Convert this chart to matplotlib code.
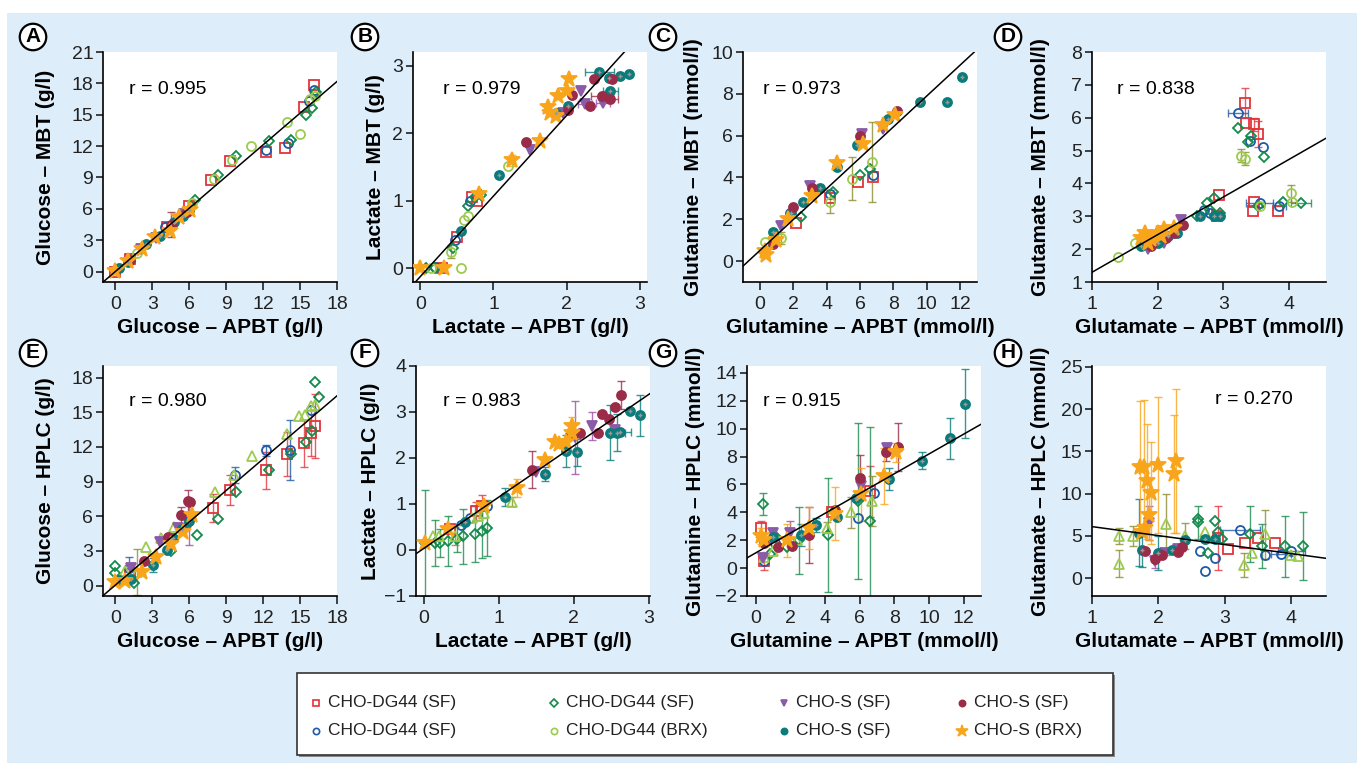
import matplotlib.pyplot as plt
import matplotlib.patches as mpatches
from matplotlib.lines import Line2D
import numpy as np

plt.rcParams['font.family'] = ['Liberation Sans', 'DejaVu Sans']

# series: red sq, blue circ, green diamond, light green (BRX), purple tri, teal, maroon, star
labels = ['CHO-DG44 (SF)', 'CHO-DG44 (SF)', 'CHO-DG44 (SF)', 'CHO-DG44 (BRX)',
          'CHO-S (SF)', 'CHO-S (SF)', 'CHO-S (SF)', 'CHO-S (BRX)']
colors = ['#e2343a', '#1f5aa6', '#138b4b', '#9ccb4f', '#8b5aa8', '#0b7b7b', '#9a2c4a', '#f9a51b']
err_colors = ['#e2343a', '#1f5aa6', '#1d8a4f', '#8c8c30', '#9b4fa8', '#0b7b7b', '#9a2c4a', '#f9a51b']
markers = ['s', 'o', 'D', 'o', 'v', 'o', 'o', '*']
filled = [False, False, False, False, True, True, True, True]

# rows: series, x, y, xerr, yerr
glc_mbt = [
    (0, 0, 0, 0, 0), (0, 1.2, 1.2, 0, 0), (0, 4.2, 4.3, 0, 0), (0, 6, 6.3, 0, 0), (0, 7.8, 8.8, 0, 0),
    (0, 9.3, 10.6, 0, 0), (0, 12.2, 11.4, 0, 0), (0, 13.8, 11.8, 0, 0), (0, 15.3, 15.7, 0, 0), (0, 16.1, 17.8, 0, 0),
    (1, 4, 4.3, 0, 0), (1, 12.2, 11.6, 0, 0), (1, 14, 12.3, 0, 0), (1, 16.1, 17.4, 0, 0), (1, 15.7, 16.3, 0, 0),
    (2, 6.5, 6.8, 0, 0), (2, 8.3, 9.2, 0, 0), (2, 9.8, 11.1, 0, 0), (2, 12.5, 12.5, 0, 0), (2, 14.3, 12.6, 0, 0),
    (2, 15.5, 15.0, 0, 0), (2, 16, 15.6, 0, 0), (2, 16.3, 17.2, 0, 0),
    (3, 1.8, 1.8, 0, 0), (3, 6.2, 6.6, 0, 0), (3, 8, 8.9, 0, 0), (3, 9.5, 10.7, 0, 0), (3, 11, 12, 0, 0),
    (3, 13.9, 14.3, 0, 0), (3, 15, 13.2, 0, 0), (3, 15.8, 16.5, 0, 0), (3, 16.2, 16.8, 0, 0),
    (4, 2.1, 2.2, 0, 0), (4, 3.3, 3.2, 0, 0), (4, 5.6, 5.5, 0, 0),
    (5, 0.3, 0.3, 0, 0), (5, 1, 0.9, 0, 0), (5, 2.5, 2.6, 0, 0), (5, 3.6, 3.4, 0, 0), (5, 4.8, 4.7, 0, 0),
    (5, 5.5, 5.3, 0, 0), (5, 6, 5.9, 0, 0),
    (6, 1.2, 1.1, 0, 0), (6, 4.5, 4.5, 0, 1.2), (6, 5.8, 5.7, 0, 0),
    (7, 0, 0.1, 0, 0), (7, 1, 1, 0, 0), (7, 2.2, 2.2, 0, 0), (7, 3.2, 3.3, 0, 0), (7, 4.4, 3.9, 0, 0),
    (7, 5.2, 5.2, 0, 0), (7, 6.1, 5.9, 0, 0),
]
lac_mbt = [
    (0, 0.3, 0, 0, 0), (0, 0.5, 0.47, 0, 0), (0, 0.7, 1.05, 0, 0), (0, 0.78, 1.0, 0, 0),
    (1, 0.2, 0.02, 0, 0), (1, 0.48, 0.42, 0, 0), (1, 0.68, 1.0, 0, 0),
    (2, 0.08, 0, 0, 0), (2, 0.2, 0.01, 0, 0), (2, 0.45, 0.3, 0, 0), (2, 0.65, 0.93, 0, 0), (2, 0.75, 1.05, 0, 0),
    (2, 0.83, 1.08, 0, 0),
    (3, 0.15, 0, 0, 0), (3, 0.55, 0, 0, 0), (3, 0.42, 0.25, 0, 0.1), (3, 0.6, 0.72, 0, 0), (3, 0.65, 0.78, 0, 0),
    (3, 1.2, 1.52, 0, 0),
    (4, 1.5, 1.75, 0, 0), (4, 2.2, 2.62, 0, 0), (4, 2.25, 2.43, 0.1, 0), (4, 2.5, 2.45, 0.1, 0), (4, 1.95, 2.3, 0, 0),
    (5, 0.55, 0.56, 0, 0), (5, 1.08, 1.38, 0, 0), (5, 1.85, 2.3, 0, 0), (5, 2.02, 2.4, 0, 0), (5, 2.45, 2.9, 0.2, 0),
    (5, 2.58, 2.82, 0, 0), (5, 2.73, 2.85, 0, 0), (5, 2.85, 2.87, 0, 0), (5, 2.6, 2.63, 0.1, 0),
    (6, 1.45, 1.87, 0, 0), (6, 2.02, 2.35, 0, 0), (6, 2.08, 2.56, 0, 0), (6, 2.38, 2.8, 0, 0), (6, 2.62, 2.8, 0, 0),
    (6, 2.32, 2.4, 0, 0), (6, 2.48, 2.55, 0.15, 0), (6, 2.6, 2.5, 0.1, 0),
    (7, 0, 0, 0, 0), (7, 0.33, 0, 0, 0), (7, 0.8, 1.1, 0, 0), (7, 1.25, 1.6, 0, 0.08), (7, 1.63, 1.88, 0, 0),
    (7, 1.75, 2.38, 0, 0), (7, 1.78, 2.3, 0, 0), (7, 1.88, 2.55, 0, 0), (7, 1.85, 2.25, 0, 0),
    (7, 2.0, 2.62, 0, 0), (7, 2.03, 2.8, 0, 0),
]
gln_mbt = [
    (0, 2.2, 1.8, 0, 0), (0, 5.9, 3.8, 0, 0), (0, 6.8, 4.0, 0, 0), (0, 4.2, 3.0, 0, 0),
    (1, 1.8, 2.3, 0, 0), (1, 4.2, 3.2, 0, 0), (1, 6.8, 4.1, 0, 0),
    (2, 2.5, 2.1, 0, 0), (2, 4.4, 3.3, 0, 0), (2, 6.0, 4.1, 0, 0), (2, 6.6, 4.4, 0, 0),
    (3, 0.3, 0.9, 0, 0), (3, 1.3, 1.1, 0, 0.3), (3, 4.2, 2.85, 0, 0.55), (3, 5.5, 3.95, 0, 1.05), (3, 6.7, 4.75, 0, 1.9),
    (4, 1.3, 1.7, 0, 0), (4, 3.0, 3.6, 0, 0), (4, 6.1, 6.1, 0, 0), (4, 7.4, 6.3, 0, 0),
    (5, 0.8, 1.4, 0, 0), (5, 1.9, 2.3, 0, 0), (5, 2.6, 2.85, 0, 0), (5, 3.6, 3.5, 0, 0), (5, 4.6, 4.5, 0, 0),
    (5, 5.8, 5.55, 0, 0), (5, 7.7, 6.8, 0, 0), (5, 9.6, 7.6, 0, 0), (5, 11.2, 7.6, 0, 0), (5, 12.1, 8.8, 0, 0),
    (6, 0.8, 0.8, 0, 0), (6, 2.0, 2.6, 0, 0), (6, 3.1, 3.5, 0, 0), (6, 6.0, 6.0, 0, 0), (6, 8.2, 7.2, 0, 0),
    (7, 0.3, 0.5, 0, 0), (7, 0.4, 0.3, 0, 0), (7, 1.0, 1.0, 0, 0), (7, 1.7, 2.0, 0, 0), (7, 3.1, 3.1, 0, 0),
    (7, 4.6, 4.7, 0, 0), (7, 6.2, 5.6, 0, 0), (7, 7.4, 6.5, 0, 0), (7, 8.1, 7.0, 0, 0),
]
glu_mbt = [
    (0, 3.33, 6.45, 0, 0.45), (0, 3.35, 5.85, 0, 0), (0, 3.47, 5.8, 0, 0.2), (0, 3.53, 5.5, 0, 0.4),
    (0, 3.47, 3.45, 0, 0), (0, 3.45, 3.15, 0, 0), (0, 3.83, 3.15, 0, 0), (0, 2.93, 3.65, 0, 0), (0, 2.9, 3.0, 0, 0),
    (1, 3.22, 6.15, 0.15, 0), (1, 3.4, 5.3, 0, 0), (1, 3.6, 5.1, 0, 0), (1, 3.85, 3.3, 0.1, 0),
    (1, 3.55, 3.4, 0.2, 0), (1, 2.8, 3.1, 0, 0), (1, 2.7, 3.2, 0, 0),
    (2, 3.22, 5.7, 0, 0), (2, 3.42, 5.45, 0, 0), (2, 3.38, 5.25, 0, 0), (2, 3.62, 4.8, 0, 0), (2, 3.9, 3.45, 0, 0),
    (2, 4.18, 3.4, 0.15, 0), (2, 3.52, 3.3, 0, 0), (2, 2.85, 3.55, 0, 0), (2, 2.75, 3.4, 0, 0), (2, 2.95, 3.1, 0, 0),
    (2, 2.6, 3.0, 0, 0), (2, 2.8, 3.2, 0, 0),
    (3, 3.27, 4.85, 0, 0.2), (3, 3.33, 4.75, 0, 0.2), (3, 4.02, 3.7, 0, 0.25), (3, 4.05, 3.45, 0, 0),
    (3, 1.4, 1.75, 0, 0), (3, 1.65, 2.2, 0, 0), (3, 3.55, 3.3, 0, 0),
    (4, 1.85, 2.0, 0, 0), (4, 2.1, 2.2, 0, 0), (4, 2.35, 2.9, 0, 0), (4, 2.05, 2.5, 0, 0),
    (5, 1.75, 2.1, 0, 0), (5, 2.0, 2.2, 0, 0), (5, 2.15, 2.4, 0, 0), (5, 2.3, 2.5, 0, 0), (5, 2.65, 3.0, 0, 0),
    (5, 2.85, 3.0, 0, 0), (5, 2.95, 3.0, 0, 0),
    (6, 2.12, 2.35, 0, 0), (6, 2.38, 2.75, 0, 0), (6, 1.9, 2.1, 0, 0), (6, 2.25, 2.5, 0, 0),
    (7, 1.75, 2.35, 0, 0), (7, 1.8, 2.5, 0, 0), (7, 1.9, 2.3, 0, 0), (7, 2.0, 2.5, 0, 0), (7, 2.1, 2.6, 0, 0),
    (7, 2.25, 2.65, 0, 0), (7, 1.85, 2.2, 0, 0), (7, 2.05, 2.4, 0, 0),
]
glc_hplc = [
    (0, 7.9, 6.7, 0, 1.2), (0, 9.3, 8.3, 0, 1.3), (0, 12.2, 10, 0, 1.6), (0, 13.9, 11.4, 0, 1.9),
    (0, 15.3, 12.3, 0, 2), (0, 15.9, 13.2, 0, 2), (0, 16.2, 13.8, 0, 2.8), (0, 1.2, 1.0, 0, 0),
    (1, 9.7, 9.6, 0, 0.7), (1, 12.2, 11.7, 0, 0.5), (1, 14.2, 11.7, 0, 2.6), (1, 15.9, 15.2, 0, 0), (1, 1.1, 1.5, 0, 1),
    (2, 0, 1.7, 0, 0), (2, 0, 1.1, 0, 0), (2, 1.5, 0.2, 0, 0), (2, 6.6, 4.4, 0, 0), (2, 8.3, 5.8, 0, 0),
    (2, 9.8, 8.1, 0, 0), (2, 12.5, 10, 0, 0), (2, 14.3, 11.4, 0, 0), (2, 15.5, 12.4, 0, 0), (2, 16, 13.4, 0, 0),
    (2, 16.2, 17.6, 0, 0), (2, 16.5, 16.3, 0, 0), (2, 4.5, 3.0, 0, 0),
    (3, 2.5, 3.3, 0, 0), (3, 3.7, 4.1, 0, 0), (3, 4.8, 5.1, 0, 0), (3, 8.1, 8.1, 0, 0), (3, 9.6, 9.6, 0, 0),
    (3, 11.1, 11.2, 0, 0), (3, 13.9, 13.1, 0, 0), (3, 14.9, 14.7, 0, 0), (3, 15.4, 14.8, 0, 0),
    (3, 15.9, 15.5, 0, 0), (3, 16.2, 15.6, 0, 0), (3, 0.8, 1.3, 0, 0), (3, 1.8, 1.2, 0, 2),
    (4, 6.0, 5.2, 0, 1.7), (4, 1.3, 1.5, 0, 0), (4, 3.6, 3.8, 0, 0), (4, 5.1, 5.0, 0, 0),
    (5, 0.3, 0.5, 0, 0), (5, 1.3, 0.6, 0, 0), (5, 3.1, 1.8, 0, 0.6), (5, 4.2, 3.1, 0, 0), (5, 4.7, 4.1, 0, 0),
    (5, 5.4, 4.9, 0, 0), (5, 6.0, 5.6, 0, 0),
    (6, 5.3, 6.1, 0, 0.7), (6, 5.9, 7.3, 0, 1), (6, 6.1, 7.2, 0, 0), (6, 2.3, 2.1, 0, 0), (6, 4.3, 4.2, 0, 0),
    (7, 0, 0.3, 0, 0), (7, 0.8, 0.4, 0, 0), (7, 2.2, 1.2, 0, 0), (7, 3.3, 2.5, 0, 0), (7, 4.5, 3.6, 0, 0),
    (7, 5.5, 4.6, 0, 0), (7, 6.2, 6.1, 0, 0),
]
lac_hplc = [
    (0, 0.35, 0.45, 0, 0), (0, 0.7, 0.85, 0, 0.2), (0, 0.78, 0.95, 0, 0.25),
    (1, 0.5, 0.55, 0, 0), (1, 0.62, 0.7, 0, 0), (1, 0.85, 0.95, 0, 0),
    (2, 0.02, 0.15, 0, 1.15), (2, 0.15, 0.15, 0, 0.5), (2, 0.22, 0.15, 0, 0.3), (2, 0.33, 0.2, 0, 0.55),
    (2, 0.45, 0.25, 0, 0.3), (2, 0.52, 0.3, 0, 0.6), (2, 0.68, 0.35, 0, 0.6), (2, 0.78, 0.42, 0, 0.6),
    (2, 0.85, 0.48, 0, 0.6),
    (3, 0.12, 0.3, 0, 0), (3, 0.2, 0.3, 0, 0), (3, 0.42, 0.3, 0, 0.2), (3, 0.65, 0.7, 0, 0), (3, 0.72, 0.75, 0, 0),
    (3, 1.18, 1.05, 0, 0.1), (3, 0.8, 0.8, 0, 0),
    (4, 1.5, 1.7, 0, 0), (4, 2.02, 2.45, 0, 0.8), (4, 2.25, 2.7, 0, 0.3), (4, 2.55, 2.6, 0, 0),
    (5, 0.55, 0.6, 0, 0), (5, 1.08, 1.15, 0, 0.2), (5, 1.62, 1.65, 0, 0.15), (5, 1.9, 2.15, 0, 0.35),
    (5, 2.04, 2.12, 0, 0.3), (5, 2.48, 2.55, 0, 0.6), (5, 2.58, 2.55, 0.1, 0.4), (5, 2.62, 2.57, 0.15, 0),
    (5, 2.75, 3.02, 0, 0), (5, 2.88, 2.93, 0, 0.45),
    (6, 1.45, 1.75, 0, 0.4), (6, 1.95, 2.5, 0, 0), (6, 2.08, 2.55, 0, 0), (6, 2.33, 2.55, 0, 0), (6, 2.38, 2.95, 0, 0),
    (6, 2.47, 2.85, 0, 0), (6, 2.55, 3.1, 0, 0), (6, 2.63, 3.37, 0, 0.3),
    (7, 0.02, 0.15, 0, 0), (7, 0.33, 0.45, 0, 0), (7, 0.8, 0.95, 0, 0), (7, 1.25, 1.35, 0, 0.2),
    (7, 1.62, 1.95, 0, 0), (7, 1.75, 2.35, 0, 0), (7, 1.8, 2.3, 0, 0), (7, 1.9, 2.35, 0, 0),
    (7, 1.98, 2.7, 0, 0.2), (7, 1.98, 2.55, 0, 0),
]
gln_hplc = [
    (0, 0.3, 2.9, 0, 0.5), (0, 4.4, 4.0, 0, 0), (0, 6.6, 5.5, 0, 1.8), (0, 0.5, 0.5, 0, 0.6),
    (1, 5.9, 3.6, 0, 0), (1, 6.8, 5.4, 0, 0), (1, 0.5, 0.5, 0, 0), (1, 1.1, 1.8, 0, 0),
    (2, 0.4, 4.6, 0, 0.8), (2, 4.2, 2.4, 0, 4.1), (2, 5.9, 4.8, 0, 5.6), (2, 6.6, 3.4, 0, 6.7),
    (2, 2.5, 2.0, 0, 2.4), (2, 1.8, 1.5, 0, 0), (2, 0.8, 1.0, 0, 0), (2, 1.2, 2.2, 0, 0),
    (3, 4.1, 2.9, 0, 0.4), (3, 5.5, 4.0, 0, 1.1), (3, 6.7, 4.8, 0, 1.8), (3, 2.4, 2.0, 0, 0),
    (3, 1.0, 1.2, 0, 0), (3, 0.5, 0.8, 0, 0),
    (4, 0.4, 0.7, 0, 0), (4, 1.0, 2.5, 0, 0), (4, 6.1, 5.9, 0, 0), (4, 7.6, 8.6, 0, 0), (4, 2.0, 2.5, 0, 0.9),
    (5, 1.0, 2.2, 0, 0), (5, 2.6, 2.4, 0, 0.8), (5, 3.5, 3.1, 0, 0.5), (5, 4.7, 3.7, 0, 0), (5, 5.8, 5.0, 0, 0),
    (5, 7.7, 6.4, 0, 0.8), (5, 9.6, 7.7, 0, 0.6), (5, 11.2, 9.3, 0, 1.5), (5, 12.1, 11.8, 0, 2.5),
    (6, 0.5, 1.8, 0, 0), (6, 1.3, 1.5, 0, 0), (6, 2.1, 1.6, 0, 0), (6, 3.1, 2.4, 0, 2), (6, 4.6, 4.2, 0, 0),
    (6, 6.0, 6.5, 0, 1.6), (6, 7.5, 8.3, 0, 0.6), (6, 8.2, 8.7, 0, 1.7),
    (7, 0.3, 2.3, 0, 0.6), (7, 0.5, 2.0, 0, 0), (7, 1.8, 2.0, 0, 1.2), (7, 3.1, 2.9, 0, 1.5), (7, 4.6, 3.9, 0, 1.9),
    (7, 6.1, 5.3, 0, 1.9), (7, 7.4, 6.6, 0, 2), (7, 8.1, 8.3, 0, 0.7),
]
glu_hplc = [
    (0, 3.3, 4.2, 0, 0), (0, 3.5, 4.8, 0, 0), (0, 3.75, 4.2, 0, 0), (0, 2.9, 4.8, 0, 3.8), (0, 3.05, 3.5, 0, 0),
    (1, 2.7, 0.9, 0, 0), (1, 2.62, 3.2, 0, 0), (1, 3.22, 5.7, 0.3, 0), (1, 2.85, 2.4, 0, 0), (1, 3.6, 2.8, 0, 0),
    (1, 3.85, 2.9, 0.15, 0), (1, 4.0, 3.2, 0.2, 0),
    (2, 2.6, 6.6, 0, 1.9), (2, 2.6, 7.0, 0, 0), (2, 2.85, 6.8, 0, 0), (2, 2.9, 5.5, 0, 0), (2, 2.95, 4.7, 0, 0),
    (2, 3.38, 5.2, 0, 3.3), (2, 3.55, 3.8, 0, 2.6), (2, 3.9, 3.8, 0, 3.6), (2, 4.18, 3.8, 0, 4), (2, 2.75, 3.0, 0, 0),
    (3, 1.4, 5.0, 0, 1), (3, 1.4, 1.7, 0, 1.6), (3, 1.62, 5.0, 0, 1.2), (3, 2.12, 6.4, 0, 3.6), (3, 2.7, 5.5, 0, 0),
    (3, 3.28, 1.6, 0, 1.4), (3, 3.4, 3.0, 0, 0), (3, 3.6, 5.2, 0, 2.9), (3, 4.0, 2.8, 0, 0), (3, 4.1, 2.6, 0, 0),
    (3, 2.4, 5.0, 0, 1.5),
    (4, 1.85, 6.5, 0, 2), (4, 1.95, 2.0, 0, 0.8), (4, 2.1, 3.0, 0, 0), (4, 2.3, 3.5, 0, 0),
    (5, 1.7, 5.4, 0, 4), (5, 2.0, 3.0, 0, 2), (5, 2.2, 3.3, 0, 0), (5, 2.4, 4.5, 0, 0), (5, 2.7, 4.7, 0, 0),
    (5, 2.85, 4.6, 0, 0), (5, 1.75, 3.3, 0, 2),
    (6, 1.8, 3.2, 0, 0), (6, 1.95, 2.3, 0, 0), (6, 2.05, 2.7, 0, 0), (6, 2.3, 3.1, 0, 0), (6, 2.35, 3.7, 0, 0),
    (7, 1.72, 13.2, 0, 7.8), (7, 1.78, 13.1, 0, 8), (7, 1.82, 11.5, 0, 6.8), (7, 1.88, 10.1, 0, 6),
    (7, 2.0, 13.4, 0, 8), (7, 2.23, 12.3, 0, 7), (7, 2.27, 13.9, 0, 8.5), (7, 1.85, 7.5, 0, 3),
    (7, 1.8, 6.0, 0, 0), (7, 1.75, 5.5, 0, 0),
]

panels = [glc_mbt, lac_mbt, gln_mbt, glu_mbt, glc_hplc, lac_hplc, gln_hplc, glu_hplc]
letters = ['A', 'B', 'C', 'D', 'E', 'F', 'G', 'H']
r_values = ['0.995', '0.979', '0.973', '0.838', '0.980', '0.983', '0.915', '0.270']
fit_slope = [1.01, 1.19, 0.74, 1.146, 0.91, 1.116, 0.71, -1.065]
fit_icpt = [0.0, -0.12, 0.5, 0.15, 0.04, 0.03, 1.09, 7.17]
analytes = ['Glucose', 'Lactate', 'Glutamine', 'Glutamate']
units = ['(g/l)', '(g/l)', '(mmol/l)', '(mmol/l)']
xlims = [(-1, 18), (-0.1, 3.1), (-1, 13), (1, 4.56), (-1, 18), (-0.1, 3.02), (-0.5, 13), (1, 4.52)]
ylims = [(-1, 21), (-0.2, 3.2), (-1, 10), (1, 8), (-0.9, 19), (-1, 4), (-2, 14.5), (-2.1, 25.1)]
xticks = [np.arange(0, 19, 3), [0, 1, 2, 3], np.arange(0, 13, 2), [1, 2, 3, 4]] * 2
yticks = [np.arange(0, 22, 3), [0, 1, 2, 3], np.arange(0, 11, 2), np.arange(1, 9),
          np.arange(0, 19, 3), np.arange(-1, 5), np.arange(-2, 15, 2), np.arange(0, 26, 5)]

W, H = 1357, 763
fig = plt.figure(figsize=(W / 100, H / 100), dpi=100, facecolor='white')
fig.patches.append(mpatches.Rectangle((7 / W, 0), 1 - 7 / W, 1 - 13 / H, transform=fig.transFigure,
                                      facecolor='#ddeefa', edgecolor='none', zorder=-10))

lefts_top = [103, 413, 743, 1092]
lefts_bot = [103, 416, 747, 1092]
ylab_x = [-0.205, -0.12, -0.171, -0.18, -0.205, -0.154, -0.18, -0.18]
r_pos = [(0.11, 0.835), (0.128, 0.835), (0.085, 0.835), (0.107, 0.835),
         (0.11, 0.847), (0.115, 0.847), (0.068, 0.847), (0.526, 0.856)]
letter_pos = [(33, 37), (365, 37), (663, 37), (1008, 37), (33, 353), (365, 353), (663, 353), (1008, 353)]

for i in range(8):
    row = i // 4
    col = i % 4
    left = (lefts_top if row == 0 else lefts_bot)[col]
    bottom = 282 if row == 0 else 596
    ax = fig.add_axes([left / W, 1 - bottom / H, 234 / W, 230 / H])
    ax.set_facecolor('white')
    for s in ['top', 'right']:
        ax.spines[s].set_visible(False)
    for s in ['left', 'bottom']:
        ax.spines[s].set_linewidth(1.2)

    data = np.array(panels[i], dtype=float)
    for s in range(8):
        d = data[data[:, 0] == s]
        if len(d) == 0:
            continue
        for _, x, y, xe, ye in d:
            if ye > 0:
                ax.errorbar(x, y, yerr=ye, fmt='none', ecolor=err_colors[s], elinewidth=1, capsize=3, alpha=0.8, zorder=2)
            if xe > 0:
                ax.errorbar(x, y, xerr=xe, fmt='none', ecolor=err_colors[s], elinewidth=1, capsize=3, alpha=0.8, zorder=2)
        m = markers[s]
        if s == 3 and row == 1:
            m = '^'
        ms = 12 if m == '*' else 6.5
        if m == 'D':
            ms = 5.5
        ax.plot(d[:, 1], d[:, 2], ls='none', marker=m, markersize=ms,
                mfc=colors[s] if filled[s] else 'none', mec=colors[s], mew=1.3, zorder=3)
        if s == 5:
            ax.plot(d[:, 1], d[:, 2], ls='none', marker='+', markersize=3.5, mec='#999999', mew=1, zorder=4)

    ax.axline((0, fit_icpt[i]), slope=fit_slope[i], color='black', lw=1.1, zorder=5)
    ax.set_xlim(*xlims[i])
    ax.set_ylim(*ylims[i])
    ax.set_xticks(xticks[i])
    ax.set_yticks(yticks[i])
    ax.tick_params(labelsize=14, width=1.2, colors='#222222')
    ax.tick_params(axis='x', length=6, pad=4)
    ax.tick_params(axis='y', length=5, pad=2)
    method = 'MBT' if row == 0 else 'HPLC'
    ax.set_xlabel(f'{analytes[col]} – APBT {units[col]}', fontsize=15, fontweight='bold', labelpad=4)
    ax.set_ylabel(f'{analytes[col]} – {method} {units[col]}', fontsize=15, fontweight='bold')
    ax.yaxis.set_label_coords(ylab_x[i], 0.5)
    ax.text(r_pos[i][0], r_pos[i][1], f'r = {r_values[i]}', transform=ax.transAxes,
            fontsize=14, va='center', ha='left')
    lx, ly = letter_pos[i]
    fig.text(lx / W, 1 - ly / H, letters[i], fontsize=15, fontweight='bold', ha='center', va='center',
             bbox=dict(boxstyle='circle,pad=0.18', fc='white', ec='black', lw=1.6))

# legend box drawn by hand so the columns sit where they do in the figure
fig.patches.append(mpatches.Rectangle((299 / W, 1 - 757 / H), 816 / W, 82 / H, transform=fig.transFigure,
                                      facecolor='#888888', edgecolor='none', zorder=1))
fig.patches.append(mpatches.Rectangle((297 / W, 1 - 755 / H), 816 / W, 82 / H, transform=fig.transFigure,
                                      facecolor='white', edgecolor='#333333', lw=1.2, zorder=2))
leg_x = [316, 554, 784, 962]
leg_y = [703, 731]
for s in range(8):
    cx = leg_x[s // 2]
    cy = leg_y[s % 2]
    fig.add_artist(Line2D([cx / W], [1 - cy / H], transform=fig.transFigure, ls='none',
                          marker=markers[s], markersize=9 if s == 7 else 4.5,
                          mfc=colors[s] if filled[s] else 'none', mec=colors[s], mew=1.2, zorder=3))
    fig.text((cx + 12) / W, 1 - cy / H, labels[s], fontsize=12.5, ha='left', va='center', color='#222222', zorder=3)

fig.savefig('out.png', dpi=100, facecolor=fig.get_facecolor())
